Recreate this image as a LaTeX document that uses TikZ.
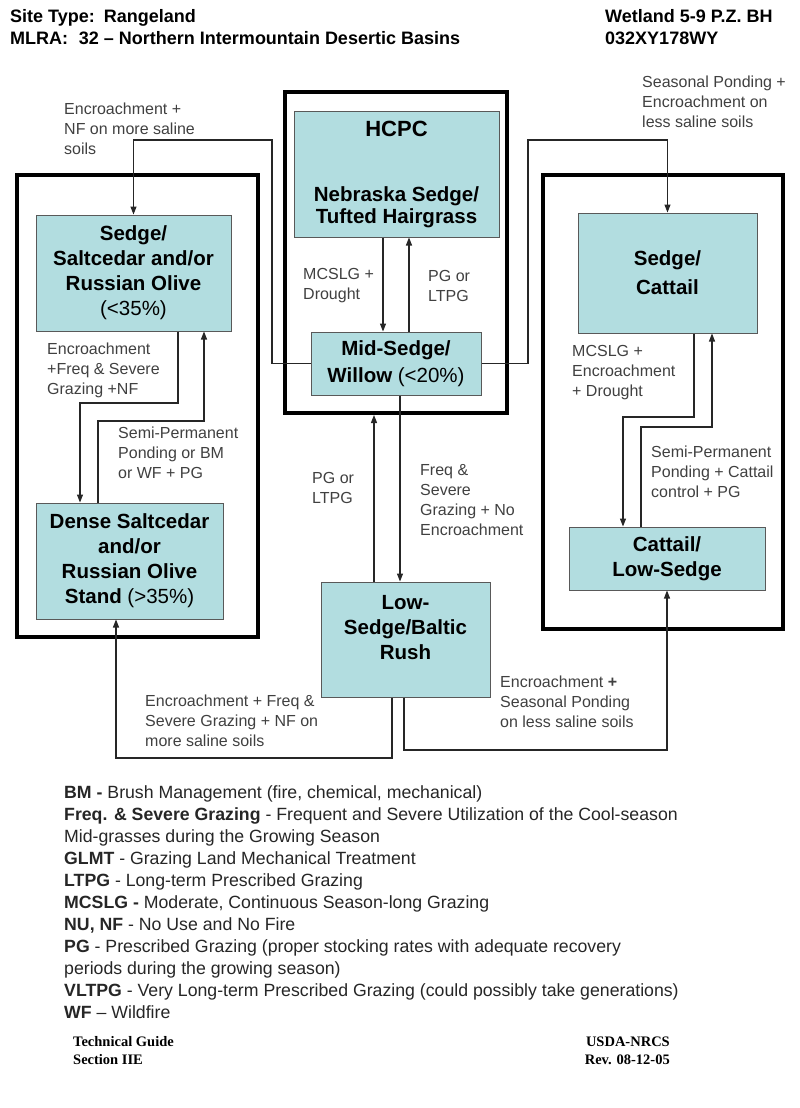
\documentclass[tikz,border=0pt]{standalone}
\usepackage{fontspec}
\setmainfont{Liberation Sans}
\newfontfamily\footfont{Liberation Serif}
\usetikzlibrary{arrows.meta}

\definecolor{stateblue}{RGB}{178,221,224}
\definecolor{notegray}{RGB}{64,64,64}

\tikzset{
  statebox/.style={draw=black!65, fill=stateblue, line width=1pt, align=center, inner sep=0pt,
    font=\fontsize{20.5}{25}\selectfont\bfseries},
  phasebox/.style={draw=black, line width=4pt, inner sep=0pt},
  note/.style={anchor=west, align=left, inner sep=0pt, text=notegray, font=\fontsize{16}{20}\selectfont},
  flow/.style={draw=black!85, line width=1.1pt, -{Triangle[length=8pt,width=6pt]}},
  head/.style={anchor=base west, inner sep=0pt, font=\fontsize{18}{22}\selectfont\bfseries},
  key/.style={anchor=base west, inner sep=0pt, text=black!85, font=\fontsize{17.7}{22}\selectfont},
  foot/.style={inner sep=0pt, font=\footfont\fontsize{14.5}{18}\selectfont\bfseries}
}

\begin{document}
\begin{tikzpicture}[x=1pt, y=-1pt]
\useasboundingbox (0,0) rectangle (800,1108);

% header
\node[head] (site) at (10,23) {Site Type:\hspace{0.5em}Rangeland};
\node[head] (mlra) at (10,45) {MLRA:\hspace{0.6em}32 -- Northern Intermountain Desertic Basins};
\node[head] (wetland) at (605,23) {Wetland 5-9 P.Z. BH};
\node[head] (esd) at (605,45) {032XY178WY};

% groups
\node[phasebox, minimum width=241pt, minimum height=462pt] (leftgroup) at (137.5,406) {};
\node[phasebox, minimum width=222pt, minimum height=321pt] (hcpcgroup) at (396,252.5) {};
\node[phasebox, minimum width=240pt, minimum height=454pt] (rightgroup) at (663,402) {};

% states
\node[statebox, minimum width=205pt, minimum height=126pt] (hcpc) at (396.5,174)
  {{\fontsize{22}{26}\selectfont HCPC}\\[40pt]Nebraska Sedge/\\[-3pt]Tufted Hairgrass};
\node[statebox, minimum width=170pt, minimum height=63pt] (mid) at (396,363.5)
  {Mid-Sedge/\\[2pt]Willow {\mdseries(<20\%)}};
\node[statebox, minimum width=195pt, minimum height=116pt] (saltcedar) at (133.5,273)
  {Sedge/\\Saltcedar and/or\\Russian Olive\\{\mdseries(<35\%)}};
\node[statebox, minimum width=187pt, minimum height=116pt] (dense) at (129.5,561)
  {Dense Saltcedar\\and/or\\Russian Olive\\Stand {\mdseries(>35\%)}};
\node[statebox, minimum width=179pt, minimum height=120pt] (cattail) at (667.5,273)
  {Sedge/\\[4pt]Cattail};
\node[statebox, minimum width=196pt, minimum height=63pt] (lowcattail) at (667,558.5)
  {Cattail/\\Low-Sedge};
\node[statebox, minimum width=169pt, minimum height=115pt, text depth=25pt] (baltic) at (405.5,639.5)
  {Low-\\Sedge/Baltic\\Rush};

% bends
\coordinate (jl) at (272,140);
\coordinate (jr) at (528,140);
\coordinate (a1) at (178,403);
\coordinate (a2) at (80,403);
\coordinate (b1) at (98,421);
\coordinate (b2) at (204,421);
\coordinate (c1) at (694,417);
\coordinate (c2) at (623,417);
\coordinate (d1) at (641,427);
\coordinate (d2) at (712,427);
\coordinate (e1) at (392,758);
\coordinate (f1) at (404,750);

% transitions
\draw[flow] (mid.west) -| (jl) -| (saltcedar.north);
\draw[flow] (mid.east) -| (jr) -| (cattail.north);
\draw[flow] ([xshift=-13.5pt]hcpc.south) -- ([xshift=-13.5pt]hcpc.south |- mid.north);
\draw[flow] ([xshift=13pt]mid.north) -- ([xshift=13pt]mid.north |- hcpc.south);
\draw[flow] ([xshift=4pt]mid.south) -- ([xshift=4pt]mid.south |- baltic.north);
\draw[flow] ([xshift=-31.5pt]baltic.north) -- ([xshift=-31.5pt]baltic.north |- hcpcgroup.south);
\draw[flow] (saltcedar.south -| a1) -- (a1) -- (a2) -- (a2 |- dense.north);
\draw[flow] (dense.north -| b1) -- (b1) -- (b2) -- (b2 |- saltcedar.south);
\draw[flow] (cattail.south -| c1) -- (c1) -- (c2) -- (c2 |- lowcattail.north);
\draw[flow] (lowcattail.north -| d1) -- (d1) -- (d2) -- (d2 |- cattail.south);
\draw[flow] (baltic.south -| e1) -- (e1) -| ([xshift=-13.5pt]dense.south);
\draw[flow] (baltic.south -| f1) -- (f1) -| (lowcattail.south);

% transition labels
\node[note] (t1) at (64,129) {Encroachment +\\NF on more saline\\soils};
\node[note] (t2) at (642,101.5) {Seasonal Ponding +\\Encroachment on\\less saline soils};
\node[note] (t3) at (303,286) {MCSLG +\\Drought};
\node[note] (t4) at (428,286) {PG or\\LTPG};
\node[note] (t5) at (47,370) {Encroachment\\+Freq \& Severe\\Grazing +NF};
\node[note] (t6) at (118,453) {Semi-Permanent\\Ponding or BM\\or WF + PG};
\node[note] (t7) at (572,373) {MCSLG +\\Encroachment\\+ Drought};
\node[note] (t8) at (651,472) {Semi-Permanent\\Ponding + Cattail\\control + PG};
\node[note] (t9) at (312,488) {PG or\\LTPG};
\node[note] (t10) at (420,500) {Freq \&\\Severe\\Grazing + No\\Encroachment};
\node[note] (t11) at (145,721) {Encroachment + Freq \&\\Severe Grazing + NF on\\more saline soils};
\node[note] (t12) at (500,702) {Encroachment \textbf{+}\\Seasonal Ponding\\on less saline soils};

% legend
\node[key] (k1) at (64,798) {\textbf{BM -} Brush Management (fire, chemical, mechanical)};
\node[key] (k2) at (64,820) {\textbf{Freq. \& Severe Grazing} - Frequent and Severe Utilization of the Cool-season};
\node[key] (k3) at (64,842) {Mid-grasses during the Growing Season};
\node[key] (k4) at (64,864) {\textbf{GLMT} - Grazing Land Mechanical Treatment};
\node[key] (k5) at (64,886) {\textbf{LTPG} - Long-term Prescribed Grazing};
\node[key] (k6) at (64,908) {\textbf{MCSLG -} Moderate, Continuous Season-long Grazing};
\node[key] (k7) at (64,930) {\textbf{NU, NF} - No Use and No Fire};
\node[key] (k8) at (64,952) {\textbf{PG} - Prescribed Grazing (proper stocking rates with adequate recovery};
\node[key] (k9) at (64,974) {periods during the growing season)};
\node[key] (k10) at (64,996) {\textbf{VLTPG} - Very Long-term Prescribed Grazing (could possibly take generations)};
\node[key] (k11) at (64,1018) {\textbf{WF} -- Wildfire};

% footer
\node[foot, anchor=base west] (guide) at (73,1046) {Technical Guide};
\node[foot, anchor=base west] (section) at (73,1064) {Section IIE};
\node[foot, anchor=base east] (agency) at (670,1046) {USDA-NRCS};
\node[foot, anchor=base east] (rev) at (670,1064) {Rev. 08-12-05};
\end{tikzpicture}
\end{document}
